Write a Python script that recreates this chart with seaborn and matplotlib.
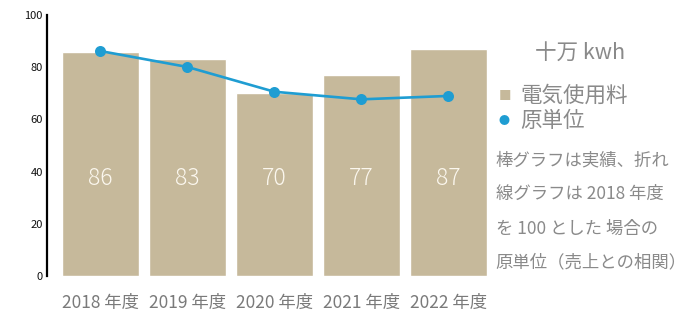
import matplotlib
matplotlib.use("Agg")
import matplotlib.pyplot as plt
import seaborn as sns
import pandas as pd

# Annual electricity usage (unit: 100,000 kWh) and unit intensity index (2018 = base)
years = ["2018 年度", "2019 年度", "2020 年度", "2021 年度", "2022 年度"]
usage = [86, 83, 70, 77, 87]
intensity = [86.2, 80.1, 70.6, 67.7, 69.0]
y_ticks = [0, 20, 40, 60, 80, 100]

bar_color = "#c6b99b"
line_color = "#1f9dd2"
text_gray = "#8a8a8a"

sns.set_theme(style="white")
plt.rcParams["font.family"] = ["Noto Sans CJK JP", "DejaVu Sans"]

df = pd.DataFrame({"year": years, "usage": usage, "intensity": intensity})

fig = plt.figure(figsize=(7, 3.2), dpi=100)
ax = fig.add_axes([0.067, 0.1375, 0.642, 0.8155])

sns.barplot(data=df, x="year", y="usage", color=bar_color, width=0.885,
            saturation=1, ax=ax)
sns.pointplot(data=df, x="year", y="intensity", color=line_color,
              markers="o", markersize=6.5, linewidth=1.9, ax=ax)

# Value labels inside the bars
for i, v in enumerate(usage):
    ax.text(i, 37.5, f"{v}", ha="center", va="center", fontsize=16.5,
            color="#fbf7ee", fontweight="light")

ax.set_xlim(-0.615, 4.55)
ax.set_ylim(0, 100)
ax.set_yticks(y_ticks)
ax.set_yticklabels([str(t) for t in y_ticks], fontsize=8, color="#111111")
ax.set_xlabel("")
ax.set_ylabel("")
ax.tick_params(axis="y", direction="in", length=4, width=1.5, color="black", pad=3)
ax.tick_params(axis="x", length=0, labelsize=12.5, labelcolor="#7a7a7a", pad=13)
for s in ["top", "right", "bottom"]:
    ax.spines[s].set_visible(False)
ax.spines["left"].set_color("black")
ax.spines["left"].set_linewidth(1.6)
ax.spines["left"].set_bounds(0, 100)

# Legend and notes on the right
fig.text(0.764, 0.835, "十万 kwh", fontsize=15.5, color=text_gray, va="center")
fig.text(0.712, 0.700, "■", fontsize=9, color=bar_color, va="center")
fig.text(0.743, 0.700, "電気使用料", fontsize=15.5, color=text_gray, va="center")
fig.text(0.712, 0.623, "●", fontsize=8, color=line_color, va="center")
fig.text(0.743, 0.623, "原単位", fontsize=15.5, color=text_gray, va="center")

notes = ["棒グラフは実績、折れ", "線グラフは 2018 年度",
         "を 100 とした 場合の", "原単位（売上との相関）"]
for k, line in enumerate(notes):
    fig.text(0.708, 0.50 - k * 0.107, line, fontsize=12.5, color=text_gray,
             va="center")

fig.savefig("out.png", dpi=100)
